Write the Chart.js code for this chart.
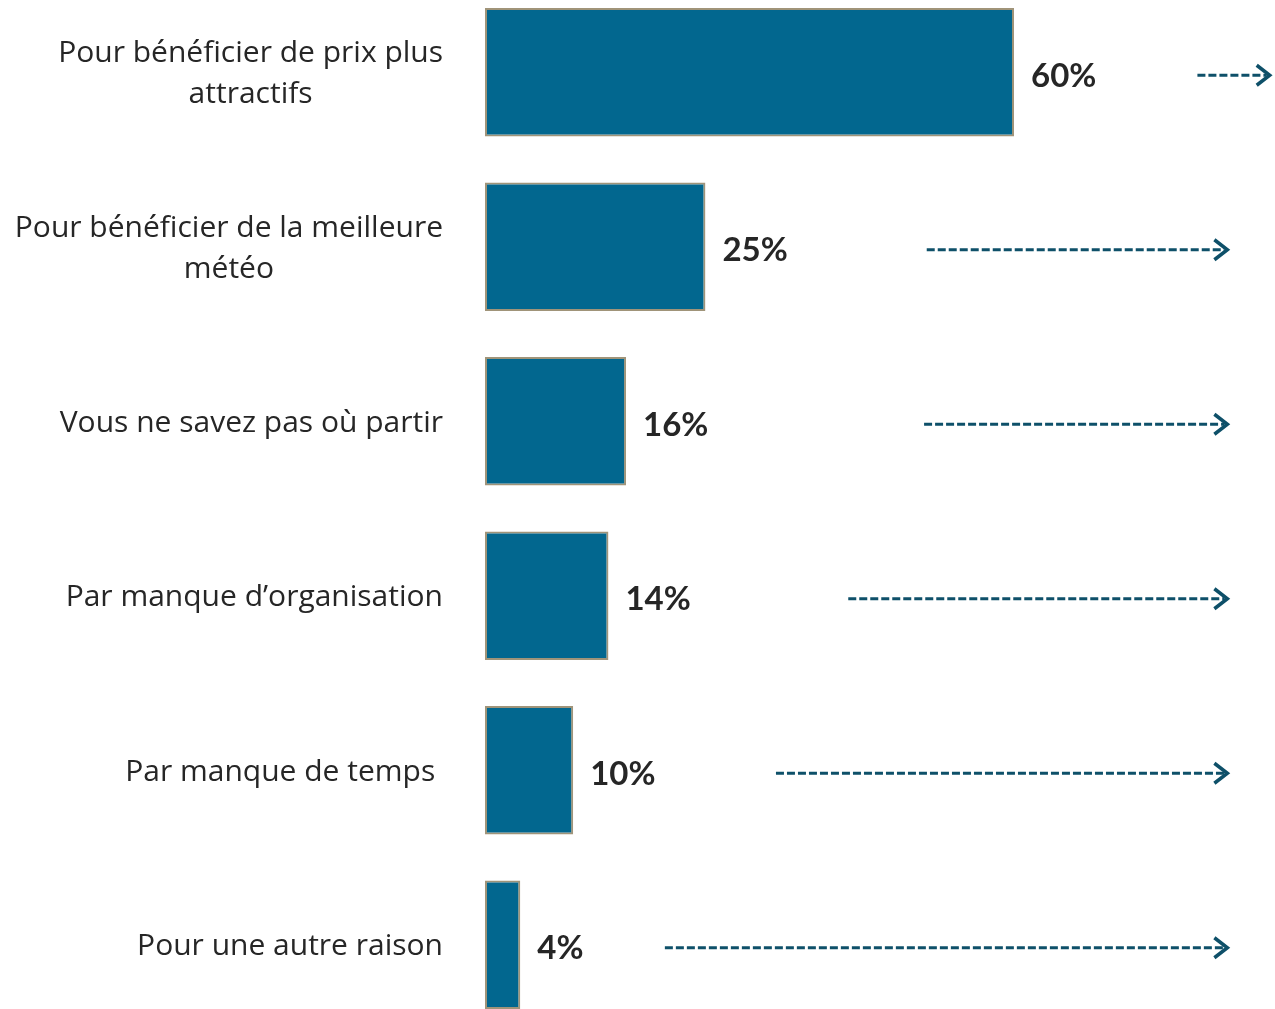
<!DOCTYPE html>
<html>
<head>
<meta charset="utf-8">
<script src="https://cdn.jsdelivr.net/npm/chart.js@4/dist/chart.umd.min.js"></script>
<style>
  html, body { margin: 0; padding: 0; background: #ffffff; overflow: hidden; }
  #wrap { position: absolute; left: 0; top: -15px; width: 1275px; height: 1047px; }
</style>
</head>
<body>
<div id="wrap"><canvas id="c"></canvas></div>
<script>
// ---- data ----
const categories = [
  ["Pour bénéficier de prix plus", "attractifs"],
  ["Pour bénéficier de la meilleure", "météo"],
  ["Vous ne savez pas où partir"],
  ["Par manque d’organisation"],
  ["Par manque de temps "],
  ["Pour une autre raison"]
];
const values = [60, 25, 16, 14, 10, 4];
const valueLabels = ["60%", "25%", "16%", "14%", "10%", "4%"];
// dashed arrows to the right (in % units on the value axis)
const arrowFrom = [80.8, 50.1, 49.8, 41.2, 33.0, 20.4];
const arrowTo   = [89.0, 84.2, 84.2, 84.2, 84.2, 84.2];

const BAR_FILL = '#02678f';
const BAR_BORDER = '#a09479';
const ARROW_COLOR = '#0e5069';
const TEXT_COLOR = '#262626';
const LABEL_FONT = '30px "Open Sans"';
const VALUE_FONT = 'bold 33px Lato';

const decor = {
  id: 'decor',
  afterDatasetsDraw(chart) {
    const ctx = chart.ctx;
    const xs = chart.scales.x;
    const meta = chart.getDatasetMeta(0);
    ctx.save();
    meta.data.forEach((bar, i) => {
      const y = bar.y;
      // value label
      ctx.font = VALUE_FONT;
      ctx.fillStyle = TEXT_COLOR;
      ctx.textAlign = 'left';
      ctx.textBaseline = 'middle';
      ctx.fillText(valueLabels[i], bar.x + 17, y + 4);

      // category label (block right-aligned, lines centered)
      const lines = categories[i];
      ctx.font = LABEL_FONT;
      const widths = lines.map(l => ctx.measureText(l).width);
      const maxW = Math.max(...widths);
      const right = xs.left - 42;
      const cx = right - maxW / 2;
      const lh = 41;
      ctx.textAlign = 'center';
      lines.forEach((l, j) => {
        ctx.fillText(l, cx, y + 2 + (j - (lines.length - 1) / 2) * lh);
      });

      // dashed arrow
      const x1 = xs.getPixelForValue(arrowFrom[i]);
      const x2 = xs.getPixelForValue(arrowTo[i]);
      const ay = y + 3;
      ctx.strokeStyle = ARROW_COLOR;
      ctx.lineWidth = 3;
      ctx.setLineDash([8, 3]);
      ctx.beginPath();
      ctx.moveTo(x1, ay);
      ctx.lineTo(x2 - 3, ay);
      ctx.stroke();
      ctx.setLineDash([]);
      ctx.lineWidth = 3.5;
      ctx.lineCap = 'butt';
      ctx.lineJoin = 'miter';
      ctx.beginPath();
      ctx.moveTo(x2 - 13, ay - 10);
      ctx.lineTo(x2, ay);
      ctx.lineTo(x2 - 13, ay + 10);
      ctx.stroke();
    });
    ctx.restore();
  }
};

new Chart(document.getElementById('c'), {
  type: 'bar',
  data: {
    labels: categories,
    datasets: [{
      data: values,
      backgroundColor: BAR_FILL,
      borderColor: BAR_BORDER,
      borderWidth: 2,
      borderSkipped: false,
      categoryPercentage: 1,
      barPercentage: 0.735
    }]
  },
  options: {
    indexAxis: 'y',
    responsive: true,
    maintainAspectRatio: false,
    animation: false,
    layout: { padding: { left: 485, right: 0, top: 0, bottom: 0 } },
    plugins: { legend: { display: false }, tooltip: { enabled: false } },
    scales: {
      x: { display: false, min: 0, max: 89.6 },
      y: { display: false, offset: true }
    }
  },
  plugins: [decor]
});
</script>
</body>
</html>
